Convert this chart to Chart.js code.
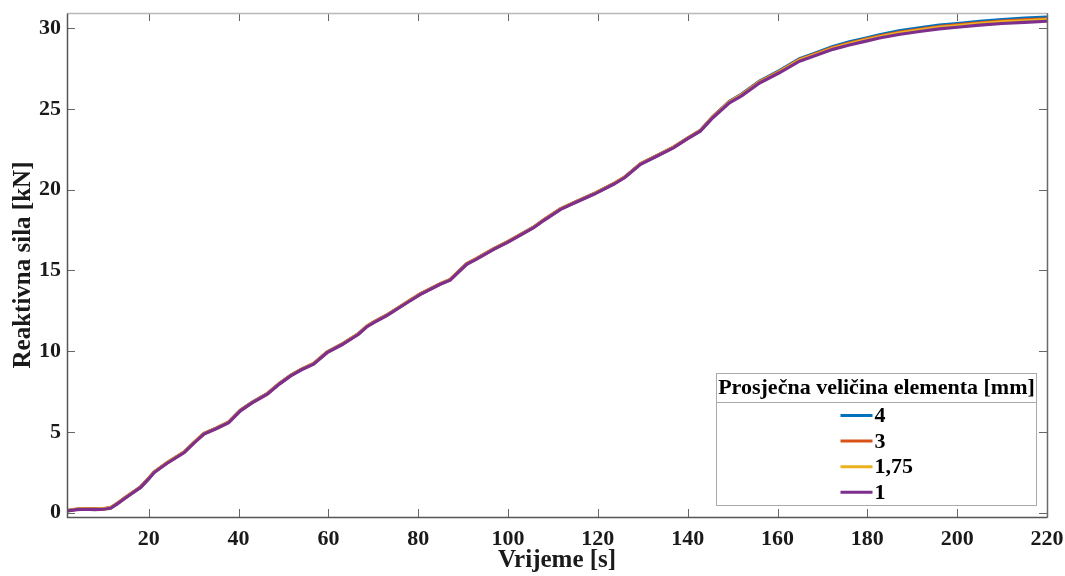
<!DOCTYPE html>
<html>
<head>
<meta charset="utf-8">
<script src="https://cdn.jsdelivr.net/npm/chart.js@4.4.0/dist/chart.umd.min.js"></script>
<style>
    html, body { margin: 0; padding: 0; background: #fff; }
    #wrap { width: 1065px; height: 576px; }
</style>
</head>
<body>
<div id="wrap"><canvas id="myChart"></canvas></div>
<script>
// ----------------------------------------------- data ---------------------------------------------------------------------------
const times = [
    2, 4, 6, 8, 10, 11.5, 13, 14.5, 16, 18.2, 20, 21.2, 24, 27.9, 30, 32.3, 35, 37.8, 40.4, 43,
    46.4, 49, 51.6, 54, 56.7, 59.7, 63, 66.7, 68.5, 70.1, 73, 77.5, 80.4, 84.9, 87.1, 90.8, 93, 96.8, 100, 105.7,
    108, 111.7, 115, 119.1, 123.5, 126, 129.5, 133, 136.9, 140, 142.8, 145.6, 149.3, 152, 156, 160.4, 164.9, 168, 172.3, 176,
    179.7, 182.7, 187, 192, 196, 200, 205, 210, 215, 220
];
const force4 = [
    0.14, 0.22, 0.25, 0.23, 0.25, 0.31, 0.58, 0.88, 1.18, 1.60, 2.13, 2.52, 3.08, 3.76, 4.33, 4.90, 5.23, 5.61, 6.34, 6.83,
    7.37, 7.98, 8.50, 8.88, 9.23, 9.94, 10.43, 11.08, 11.53, 11.80, 12.23, 13.03, 13.53, 14.17, 14.43, 15.41, 15.73, 16.33, 16.78, 17.67,
    18.13, 18.81, 19.23, 19.74, 20.36, 20.78, 21.60, 22.08, 22.63, 23.18, 23.65, 24.52, 25.46, 25.91, 26.72, 27.36, 28.10, 28.41, 28.85, 29.14,
    29.38, 29.58, 29.82, 30.03, 30.18, 30.27, 30.41, 30.52, 30.61, 30.68
];
const force3 = [
    0.15, 0.23, 0.26, 0.24, 0.26, 0.32, 0.59, 0.89, 1.19, 1.61, 2.14, 2.53, 3.09, 3.77, 4.34, 4.91, 5.24, 5.62, 6.35, 6.84,
    7.38, 7.99, 8.51, 8.89, 9.24, 9.95, 10.44, 11.09, 11.54, 11.81, 12.24, 13.04, 13.54, 14.18, 14.44, 15.42, 15.74, 16.34, 16.79, 17.68,
    18.14, 18.82, 19.24, 19.75, 20.37, 20.79, 21.61, 22.09, 22.64, 23.19, 23.66, 24.51, 25.44, 25.88, 26.69, 27.32, 28.05, 28.36, 28.79, 29.07,
    29.31, 29.50, 29.73, 29.94, 30.09, 30.19, 30.32, 30.43, 30.51, 30.57
];
const force175 = [
    0.13, 0.21, 0.24, 0.22, 0.24, 0.30, 0.57, 0.87, 1.17, 1.59, 2.12, 2.51, 3.07, 3.75, 4.32, 4.89, 5.22, 5.60, 6.33, 6.82,
    7.36, 7.97, 8.49, 8.87, 9.22, 9.93, 10.42, 11.07, 11.52, 11.79, 12.22, 13.02, 13.52, 14.16, 14.42, 15.40, 15.72, 16.32, 16.77, 17.66,
    18.12, 18.80, 19.22, 19.73, 20.35, 20.77, 21.59, 22.07, 22.62, 23.17, 23.64, 24.49, 25.42, 25.86, 26.66, 27.29, 28.02, 28.32, 28.75, 29.03,
    29.27, 29.46, 29.69, 29.89, 30.04, 30.14, 30.27, 30.38, 30.45, 30.52
];
const force1 = [
    0.12, 0.20, 0.22, 0.20, 0.22, 0.28, 0.55, 0.85, 1.15, 1.57, 2.10, 2.49, 3.05, 3.73, 4.30, 4.87, 5.20, 5.58, 6.31, 6.80,
    7.34, 7.95, 8.47, 8.85, 9.20, 9.91, 10.40, 11.05, 11.50, 11.77, 12.20, 13.00, 13.50, 14.14, 14.40, 15.38, 15.70, 16.30, 16.75, 17.64,
    18.10, 18.78, 19.20, 19.71, 20.33, 20.75, 21.57, 22.05, 22.60, 23.15, 23.62, 24.45, 25.37, 25.80, 26.60, 27.23, 27.95, 28.25, 28.68, 28.95,
    29.19, 29.38, 29.60, 29.80, 29.95, 30.05, 30.18, 30.28, 30.35, 30.42
];

const seriesLabels = ["4", "3", "1,75", "1"];
const seriesColors = ["#0072BD", "#D95319", "#EDB120", "#7E2F8E"];
const xTicks = [20, 40, 60, 80, 100, 120, 140, 160, 180, 200, 220];
const yTicks = [0, 5, 10, 15, 20, 25, 30];
const legendTitle = "Prosječna veličina elementa [mm]";

const toPoints = (ys) => times.map((t, i) => ({ x: t, y: ys[i] }));

//Global Options
Chart.defaults.font.family = "'Liberation Serif', 'Times New Roman', serif";
Chart.defaults.font.weight = "bold";
Chart.defaults.color = "#1a1a1a";

// ----------------------------------------------- plugins ---------------------------------------------------------------------------
// box round the plot with inward tick marks, like the original figure
const frameTicks = {
    id: "frameTicks",
    afterDatasetsDraw(chart) {
        const { ctx, chartArea: a, scales } = chart;
        const tl = 8;
        ctx.save();
        ctx.lineWidth = 1;
        ctx.strokeStyle = "#666";
        xTicks.forEach((v) => {
            const px = Math.round(scales.x.getPixelForValue(v)) + 0.5;
            ctx.beginPath();
            ctx.moveTo(px, a.bottom); ctx.lineTo(px, a.bottom - tl);
            ctx.moveTo(px, a.top); ctx.lineTo(px, a.top + tl);
            ctx.stroke();
        });
        yTicks.forEach((v) => {
            const py = Math.round(scales.y.getPixelForValue(v)) + 0.5;
            ctx.beginPath();
            ctx.moveTo(a.left, py); ctx.lineTo(a.left + tl, py);
            ctx.moveTo(a.right, py); ctx.lineTo(a.right - tl, py);
            ctx.stroke();
        });
        const l = Math.round(a.left) + 0.5, r = Math.round(a.right) + 0.5;
        const t = Math.round(a.top) + 0.5, b = Math.round(a.bottom) + 0.5;
        ctx.lineWidth = 1.5;
        ctx.strokeStyle = "#b8b8b8";
        ctx.beginPath(); ctx.moveTo(l, t); ctx.lineTo(r, t); ctx.stroke();
        ctx.strokeStyle = "#6a6a6a";
        ctx.beginPath(); ctx.moveTo(r, t); ctx.lineTo(r, b); ctx.stroke();
        ctx.strokeStyle = "#555";
        ctx.beginPath(); ctx.moveTo(l, t); ctx.lineTo(l, b); ctx.lineTo(r, b); ctx.stroke();
        ctx.restore();
    },
};

// legend box with a title row, inside the lower right corner
const boxLegend = {
    id: "boxLegend",
    afterDraw(chart) {
        const { ctx, chartArea: a } = chart;
        const w = 320, h = 132;
        const x0 = Math.round(a.right - 11 - w) + 0.5;
        const y0 = Math.round(a.bottom - 12 - h) + 0.5;
        ctx.save();
        ctx.fillStyle = "#fff";
        ctx.fillRect(x0, y0, w, h);
        ctx.strokeStyle = "#aaa";
        ctx.lineWidth = 1;
        ctx.strokeRect(x0, y0, w, h);
        ctx.beginPath();
        ctx.moveTo(x0, y0 + 29); ctx.lineTo(x0 + w, y0 + 29);
        ctx.stroke();

        ctx.fillStyle = "#000";
        ctx.font = "bold 22px 'Liberation Serif'";
        ctx.textAlign = "center";
        ctx.textBaseline = "middle";
        ctx.fillText(legendTitle, x0 + w / 2, y0 + 15);

        ctx.textAlign = "left";
        chart.data.datasets.forEach((ds, i) => {
            const y = y0 + 42 + i * 25.6;
            ctx.strokeStyle = ds.borderColor;
            ctx.lineWidth = 3;
            ctx.beginPath();
            ctx.moveTo(x0 + 124, y); ctx.lineTo(x0 + 156, y);
            ctx.stroke();
            ctx.fillStyle = "#000";
            ctx.fillText(ds.label, x0 + 158, y + 1);
        });
        ctx.restore();
    },
};

// ----------------------------------------------- chart ---------------------------------------------------------------------------
const data = {
    datasets: [force4, force3, force175, force1].map((ys, i) => ({
        label: seriesLabels[i],
        data: toPoints(ys),
        borderColor: seriesColors[i],
        backgroundColor: seriesColors[i],
        borderWidth: 3.2,
        pointRadius: 0,
        tension: 0,
        order: 4 - i,
    })),
};

const config = {
    type: "line",
    data: data,
    options: {
        responsive: true,
        maintainAspectRatio: false,
        animation: false,
        layout: { padding: { top: 13, right: 18, left: 0, bottom: 0 } },
        scales: {
            x: {
                type: "linear",
                min: 1.8,
                max: 220,
                afterBuildTicks: (scale) => { scale.ticks = xTicks.map((v) => ({ value: v })); },
                afterFit: (scale) => {
                    scale.height = 59;
                    scale.paddingLeft = 0;
                    scale.paddingRight = 0;
                },
                grid: { display: false, drawTicks: false },
                border: { display: false },
                ticks: {
                    padding: 9,
                    maxRotation: 0,
                    autoSkip: false,
                    font: { size: 22, weight: "bold" },
                },
                title: {
                    display: true,
                    text: "Vrijeme [s]",
                    font: { size: 25, weight: "bold" },
                    padding: { top: 0, bottom: 0 },
                },
            },
            y: {
                min: -0.26,
                max: 30.93,
                afterBuildTicks: (scale) => { scale.ticks = yTicks.map((v) => ({ value: v })); },
                afterFit: (scale) => {
                    scale.width = 67;
                    scale.paddingTop = 0;
                    scale.paddingBottom = 0;
                },
                grid: { display: false, drawTicks: false },
                border: { display: false },
                ticks: {
                    padding: 6,
                    autoSkip: false,
                    font: { size: 22, weight: "bold" },
                },
                title: {
                    display: true,
                    text: "Reaktivna sila [kN]",
                    font: { size: 25, weight: "bold" },
                    padding: { top: 9, bottom: 0 },
                },
            },
        },
        plugins: {
            legend: { display: false },
            tooltip: { enabled: false },
        },
    },
    plugins: [frameTicks, boxLegend],
};

//render init block
const myChart = new Chart(document.getElementById("myChart").getContext("2d"), config);
</script>
</body>
</html>
